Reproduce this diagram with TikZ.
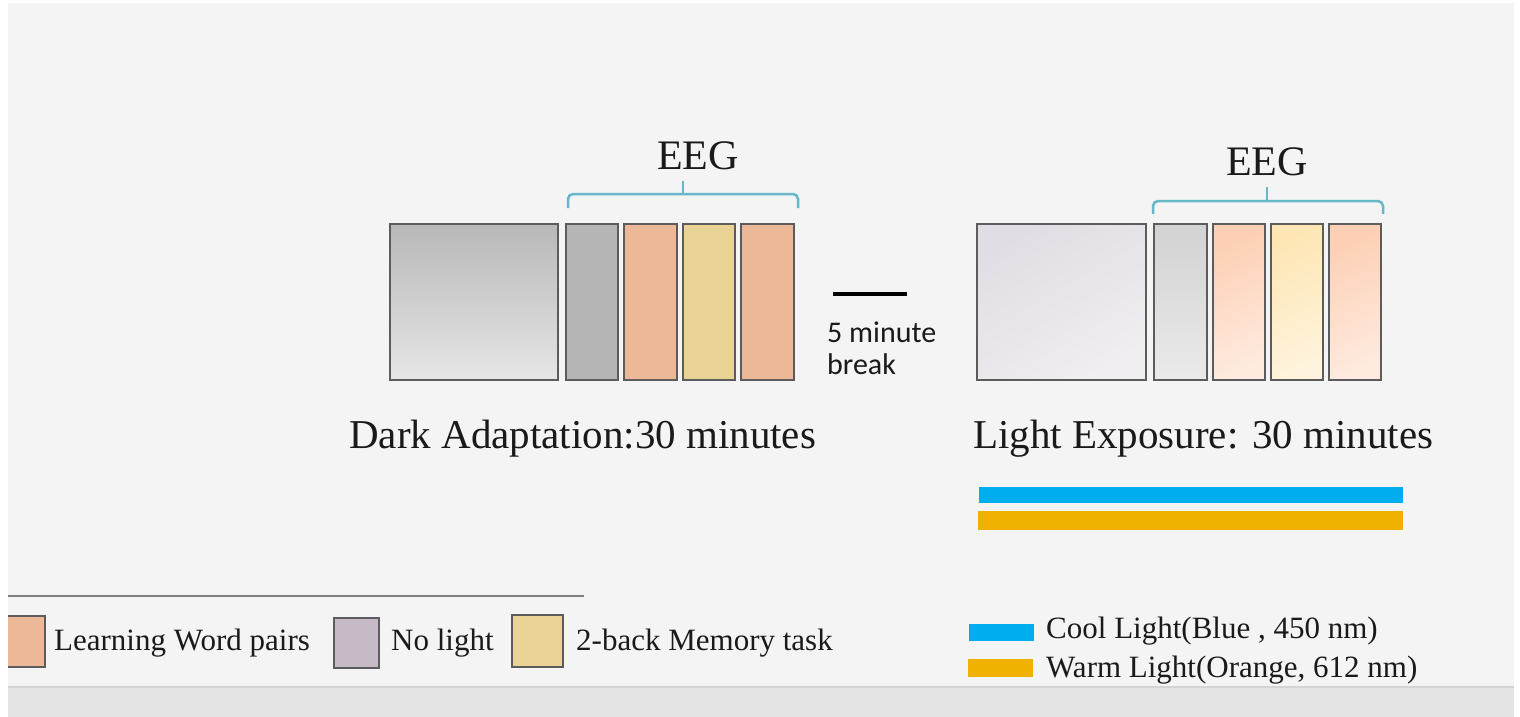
\documentclass[tikz,border=0pt]{standalone}
\usepackage{fontspec}
\setmainfont{Liberation Serif}
\newfontfamily\notefont{Carlito}
\usetikzlibrary{positioning}

\definecolor{panel}{RGB}{244,244,244}
\definecolor{stripgray}{RGB}{228,228,228}
\definecolor{stripedge}{RGB}{212,212,212}
\definecolor{slotedge}{RGB}{92,92,92}
\definecolor{bracecol}{RGB}{104,182,202}
\definecolor{rulegray}{RGB}{128,128,128}
\definecolor{coolblue}{RGB}{0,174,239}
\definecolor{warmorange}{RGB}{240,177,0}
\definecolor{learncol}{RGB}{237,184,152}
\definecolor{memcol}{RGB}{233,211,148}
\definecolor{nolightcol}{RGB}{197,186,198}
\definecolor{textcol}{RGB}{26,26,26}

\tikzset{
	every node/.style={inner sep=0pt, text=textcol},
	slot/.style={draw=slotedge, line width=2pt, anchor=north west, minimum height=156pt},
	keybox/.style={draw=slotedge, line width=2pt, anchor=north west},
	eeg/.style={draw=bracecol, line width=2.5pt, rounded corners=5pt},
	heading/.style={anchor=base west, font=\fontsize{41}{49}\selectfont},
	keytext/.style={anchor=base west, font=\fontsize{31}{37}\selectfont}
}

\begin{document}
\begin{tikzpicture}[x=1pt, y=-1pt]
	\useasboundingbox (0,0) rectangle (1520,717);
	\fill[white] (0,0) rectangle (1520,717);
	
	\begin{scope}
	\clip (8,3) rectangle (1514,717);
	\fill[panel] (8,3) rectangle (1514,717);
	
	% dark adaptation block
	\node[slot, minimum width=168pt, top color={rgb,255:red,184;green,184;blue,184}, bottom color={rgb,255:red,230;green,230;blue,230}] (dark) at (389,223) {};
	\node[slot, minimum width=52pt, fill={rgb,255:red,181;green,181;blue,181}] (dA) at (565,223) {};
	\node[slot, minimum width=53pt, fill=learncol] (dB) at (623,223) {};
	\node[slot, minimum width=52pt, fill=memcol] (dC) at (682,223) {};
	\node[slot, minimum width=53pt, fill=learncol] (dD) at (740,223) {};
	
	\draw[eeg] (568,208) -- (568,194) -- (798,194) -- (798,208);
	\draw[eeg] (683,194) -- (683,181);
	\node[anchor=base, font=\fontsize{42}{50}\selectfont] (eegDark) at (698,169) {EEG};
	\node[heading] (darkLabel) at (349,448) {Dark Adaptation:30 minutes};
	
	% break
	\draw[black, line width=3.5pt] (833,294) -- (907,294);
	\node[anchor=base west, font=\notefont\fontsize{30}{32}\selectfont] (brkA) at (827,342) {5 minute};
	\node[anchor=base west, font=\notefont\fontsize{30}{32}\selectfont] (brkB) at (827,374) {break};
	
	% light exposure block
	\node[slot, minimum width=169pt, top color={rgb,255:red,225;green,221;blue,228}, bottom color={rgb,255:red,240;green,238;blue,241}, shading angle=30] (light) at (976,223) {};
	\node[slot, minimum width=53pt, top color={rgb,255:red,210;green,210;blue,210}, bottom color={rgb,255:red,234;green,234;blue,234}] (lA) at (1153,223) {};
	\node[slot, minimum width=52pt, top color={rgb,255:red,253;green,207;blue,180}, bottom color={rgb,255:red,254;green,234;blue,222}, shading angle=25] (lB) at (1212,223) {};
	\node[slot, minimum width=52pt, top color={rgb,255:red,254;green,230;blue,180}, bottom color={rgb,255:red,254;green,243;blue,220}, shading angle=25] (lC) at (1270,223) {};
	\node[slot, minimum width=52pt, top color={rgb,255:red,253;green,207;blue,180}, bottom color={rgb,255:red,254;green,234;blue,222}, shading angle=25] (lD) at (1328,223) {};
	
	\draw[eeg] (1153,214) -- (1153,201) -- (1383,201) -- (1383,214);
	\draw[eeg] (1267,201) -- (1267,187);
	\node[anchor=base, font=\fontsize{42}{50}\selectfont] (eegLight) at (1267,175) {EEG};
	\node[heading] (lightLabel) at (973,448) {Light Exposure: 30 minutes};
	
	\fill[coolblue] (979,487) rectangle (1403,503);
	\fill[warmorange] (978,511) rectangle (1403,530);
	
	% legend
	\draw[rulegray, line width=1.5pt] (0,596) -- (584,596);
	\node[keybox, minimum width=46pt, minimum height=51pt, fill=learncol] (learnKey) at (-2,615) {};
	\node[keytext] (learnText) at (54,650) {Learning Word pairs};
	\node[keybox, minimum width=45pt, minimum height=50pt, fill=nolightcol] (nolightKey) at (333,617) {};
	\node[keytext] (nolightText) at (391,650) {No light};
	\node[keybox, minimum width=51pt, minimum height=52pt, fill=memcol] (memKey) at (511,614) {};
	\node[keytext] (memText) at (576,650) {2-back Memory task};
	
	\fill[coolblue] (969,624) rectangle (1034,641);
	\node[keytext] (coolText) at (1046,638) {Cool Light(Blue , 450 nm)};
	\fill[warmorange] (968,659) rectangle (1033,677);
	\node[keytext] (warmText) at (1046,677) {Warm Light(Orange, 612 nm)};
	
	% bottom strip
	\fill[stripgray] (0,687) rectangle (1520,717);
	\draw[stripedge, line width=2pt] (0,687) -- (1520,687);
	\end{scope}
\end{tikzpicture}
\end{document}
